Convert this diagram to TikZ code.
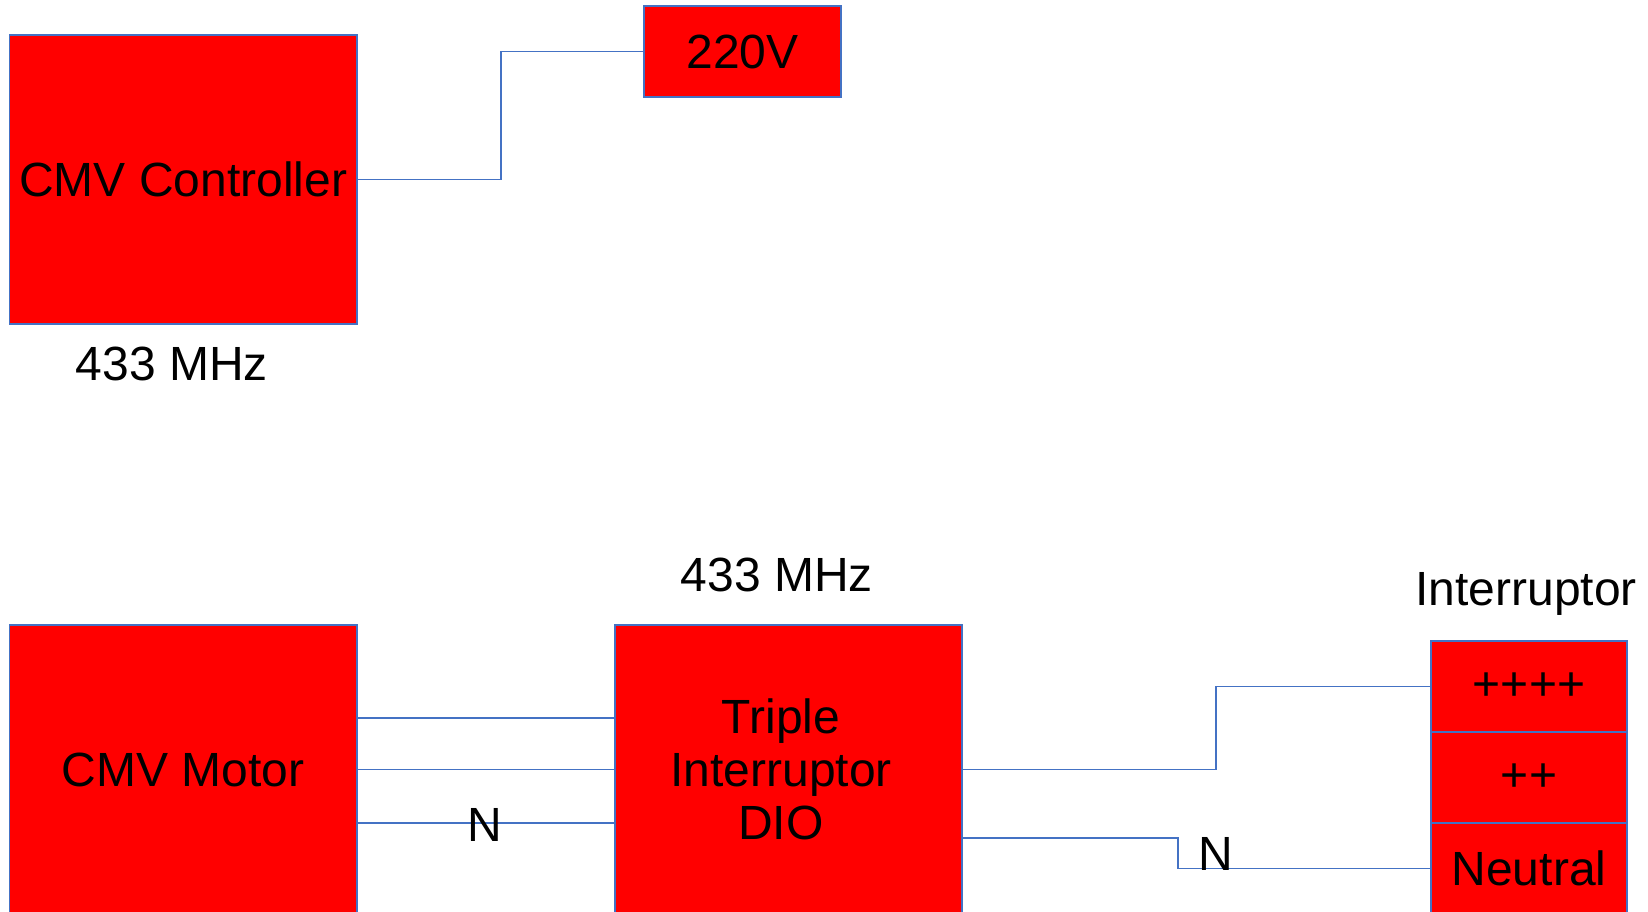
\documentclass[tikz,border=0pt]{standalone}
\usepackage{fontspec}
\setmainfont{Liberation Sans}
\definecolor{wire}{HTML}{4472C4}
\definecolor{boxred}{HTML}{FF0000}
\begin{document}
\begin{tikzpicture}[x=1pt,y=-1pt,
  box/.style={draw=wire,line width=1.1pt,fill=boxred,inner sep=0pt,outer sep=0pt,align=center,
    font=\fontsize{48}{53}\selectfont},
  lbl/.style={inner sep=0pt,anchor=base,font=\fontsize{48}{53}\selectfont},
  wireline/.style={draw=wire,line width=1.1pt}]
\useasboundingbox (0,0) rectangle (1648,911);
\clip (0,0) rectangle (1648,911);
% top
\node[box,minimum width=347.5pt,minimum height=289pt] (ctrl) at (183.25,179.5) {CMV Controller};
\node[box,minimum width=197pt,minimum height=91pt] (v220) at (742.5,51.5) {220V};
\node[lbl] (f1) at (172,380) {433 MHz};
\coordinate (k1) at (501,179.5);
\draw[wireline] (ctrl.east) -- (k1) |- (v220.west);
% bottom
\node[box,minimum width=347.5pt,minimum height=289pt] (motor) at (183.25,769.5) {CMV Motor};
\node[box,minimum width=347pt,minimum height=289pt] (dio) at (788.5,769.5) {};
\node[inner sep=0pt,align=center,font=\fontsize{48}{53}\selectfont] (diotext) at (781,769.5) {Triple\\Interruptor\\DIO};
\node[lbl] (f2) at (777,591) {433 MHz};
\node[lbl] (ilbl) at (1526,605) {Interruptor};
\node[box,minimum width=196pt,minimum height=91pt] (c1) at (1529,686.5) {++++};
\node[box,minimum width=196pt,minimum height=91pt] (c2) at (1529,777.5) {++};
\node[box,minimum width=196pt,minimum height=91pt] (c3) at (1529,868.5) {Neutral};
\draw[wireline] (motor.east |- 0,718) -- (dio.west |- 0,718);
\draw[wireline] (motor.east) -- (dio.west);
\draw[wireline] (motor.east |- 0,823) -- (dio.west |- 0,823);
\node[lbl] (n1) at (485,841) {N};
\coordinate (k2) at (1216,769.5);
\draw[wireline] (dio.east) -- (k2) |- (c1.west);
\coordinate (k3) at (1178,838);
\draw[wireline] (dio.east |- k3) -- (k3) |- (c3.west);
\node[lbl] (n2) at (1216,870) {N};
\end{tikzpicture}
\end{document}
